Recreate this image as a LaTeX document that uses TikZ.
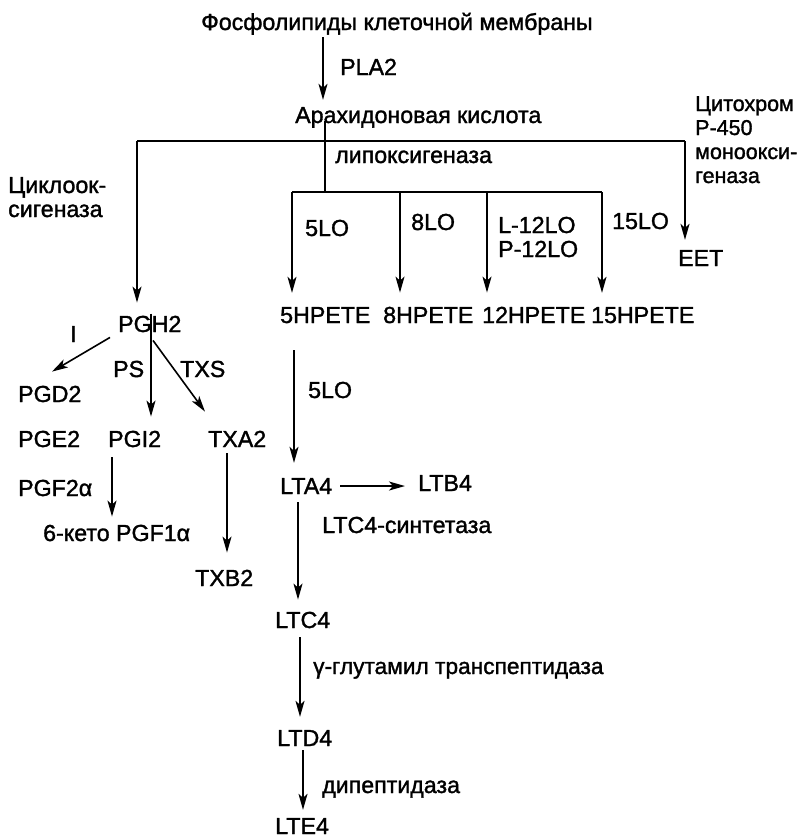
\documentclass[tikz,border=0pt]{standalone}
\usepackage{fontspec}
\setmainfont{Liberation Sans}[FakeBold=1.4]
\usetikzlibrary{arrows.meta}
\begin{document}
\begin{tikzpicture}[x=1pt,y=-1pt,
  lbl/.style={anchor=base west, inner sep=0pt, font=\fontsize{23.2}{24}\selectfont},
  ln/.style={line width=1.6pt},
  arr/.style={line width=1.6pt, -{Stealth[length=16pt,width=9pt,inset=4pt]}}]
\useasboundingbox (0,0) rectangle (802,839);
% texts
\node[lbl] (phos) at (201,30) {Фосфолипиды клеточной мембраны};
\node[lbl] (pla) at (340,75) {PLA2};
\node[lbl] (arach) at (295,123) {Арахидоновая кислота};
\node[lbl] (lipox) at (335,163) {липоксигеназа};
\node[lbl, align=left] (cox) at (8,217) {Циклоок-\\сигеназа};
\node[lbl, align=left, font=\fontsize{21.5}{24}\selectfont] (cyt) at (695,183) {Цитохром\\P-450\\моноокси-\\геназа};
\node[lbl] (lo5) at (305,236) {5LO};
\node[lbl] (lo8) at (411,230) {8LO};
\node[lbl, align=left] (lo12) at (498,257) {L-12LO\\P-12LO};
\node[lbl] (lo15) at (612,229) {15LO};
\node[lbl] (eet) at (678,266) {EET};
\node[lbl] (h5) at (280,323) {5HPETE};
\node[lbl] (h8) at (383,323) {8HPETE};
\node[lbl] (h12) at (482,323) {12HPETE};
\node[lbl] (h15) at (591,323) {15HPETE};
\node[lbl] (pgh) at (118,332) {PGH2};
\node[lbl] (eI) at (70,342) {I};
\node[lbl] (pgd) at (18,402) {PGD2};
\node[lbl] (ps) at (113,377) {PS};
\node[lbl] (txs) at (180,377) {TXS};
\node[lbl] (pge) at (18,447) {PGE2};
\node[lbl] (pgi) at (108,447) {PGI2};
\node[lbl] (txa) at (208,447) {TXA2};
\node[lbl] (pgf) at (18,496) {PGF2α};
\node[lbl] (keto) at (43,541) {6-кето PGF1α};
\node[lbl] (txb) at (195,586) {TXB2};
\node[lbl] (lo5b) at (308,398) {5LO};
\node[lbl] (lta) at (280,494) {LTA4};
\node[lbl] (ltb) at (418,491) {LTB4};
\node[lbl] (ltcs) at (322,533) {LTC4-синтетаза};
\node[lbl] (ltc) at (275,628) {LTC4};
\node[lbl, font=\fontsize{22.7}{24}\selectfont] (ggt) at (313,674) {γ-глутамил транспептидаза};
\node[lbl] (ltd) at (277,746) {LTD4};
\node[lbl] (dip) at (322,793) {дипептидаза};
\node[lbl] (lte) at (275,834) {LTE4};
% junction coordinates
\coordinate (cPLA) at (323,0);
\coordinate (cAr) at (325,0);
\coordinate (barL) at (137,141);
\coordinate (barR) at (685,141);
\coordinate (loM) at (325,192);
\coordinate (loL) at (292,192);
\coordinate (loB8) at (400,192);
\coordinate (loB12) at (487,192);
\coordinate (loR) at (602,192);
\coordinate (c5) at (294,0);
\coordinate (cC) at (298,0);
\coordinate (cD) at (300,0);
\coordinate (cE) at (303,0);
\coordinate (cPS) at (151,0);
\coordinate (cK) at (112,0);
\coordinate (cTX) at (227,0);
% connectors
\draw[arr, shorten <=2pt, shorten >=7pt] (phos.south -| cPLA) -- (arach.north -| cPLA);
\draw[ln, shorten <=-7pt] (arach.south -| cAr) -- (loM);
\draw[ln] (barL) -- (barR);
\draw[arr, shorten >=13pt] (barL) -- (pgh.north -| barL);
\draw[arr, shorten >=10pt] (barR) -- (eet.north -| barR);
\draw[ln] (loL) -- (loR);
\draw[arr, shorten >=14pt] (loL) -- (h5.north -| loL);
\draw[arr, shorten >=14pt] (loB8) -- (h8.north -| loB8);
\draw[arr, shorten >=14pt] (loB12) -- (h12.north -| loB12);
\draw[arr, shorten >=14pt] (loR) -- (h15.north -| loR);
\draw[arr, shorten <=27pt, shorten >=15pt] (h5.south -| c5) -- (lta.north -| c5);
\draw[arr, shorten <=8pt, shorten >=13pt] (lta.east) -- (ltb.west |- lta.east);
\draw[arr, shorten <=8pt, shorten >=12pt] (lta.south -| cC) -- (ltc.north -| cC);
\draw[arr, shorten <=9pt, shorten >=13pt] (ltc.south -| cD) -- (ltd.north -| cD);
\draw[arr, shorten <=4pt, shorten >=8pt] (ltd.south -| cE) -- (lte.north -| cE);
\draw[arr, shorten <=-2pt, shorten >=14pt] (pgh.north -| cPS) -- (pgi.north -| cPS);
\draw[arr] ([xshift=-8pt,yshift=-5pt]pgh.south west) -- ([xshift=34pt,yshift=14pt]pgd.north west);
\draw[arr] ([xshift=35pt,yshift=-8pt]pgh.south west) -- ([xshift=-3pt,yshift=19pt]txa.north west);
\draw[arr, shorten <=10pt, shorten >=8pt] (pgi.south -| cK) -- (keto.north -| cK);
\draw[arr, shorten <=6pt, shorten >=17pt] (txa.south -| cTX) -- (txb.north -| cTX);
\end{tikzpicture}
\end{document}
